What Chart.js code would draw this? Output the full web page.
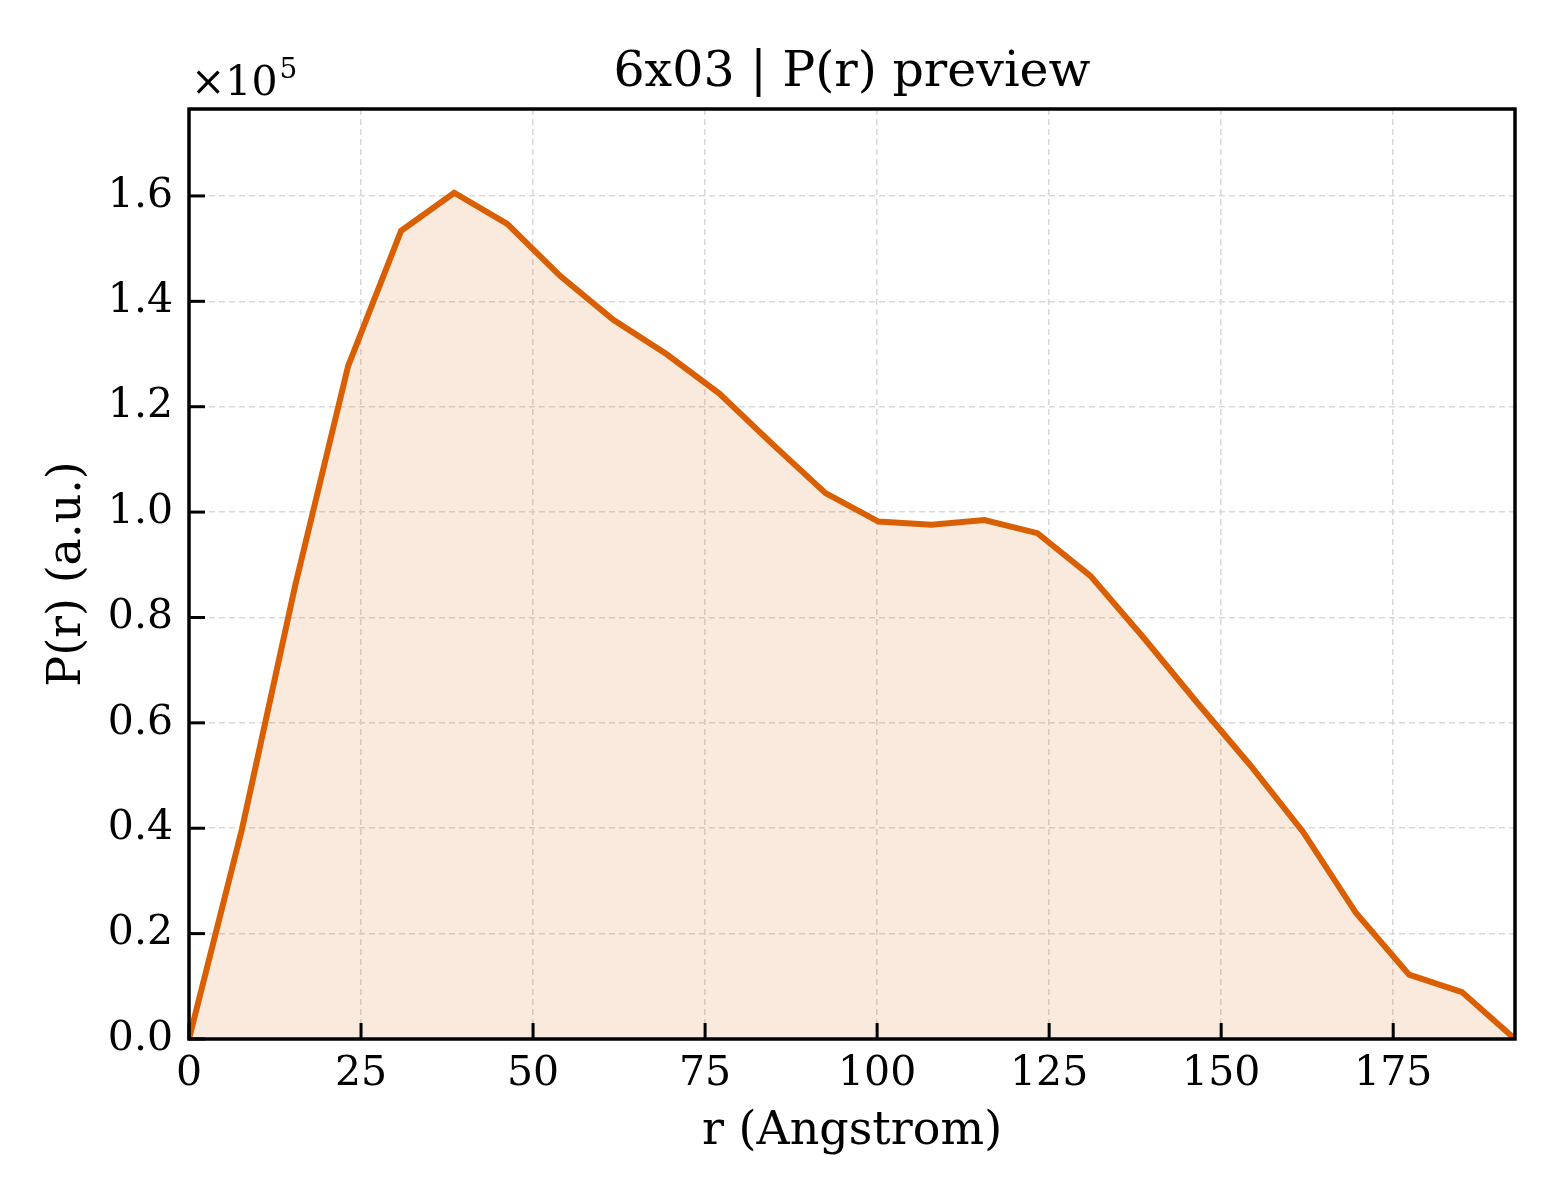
<!DOCTYPE html>
<html>
<head>
<meta charset="utf-8">
<script src="https://cdn.jsdelivr.net/npm/chart.js@4.4.1/dist/chart.umd.min.js"></script>
<style>
html,body{margin:0;padding:0;background:#fff;}
#wrap{width:1560px;height:1200px;position:relative;}
</style>
</head>
<body>
<div id="wrap"><canvas id="c" width="1560" height="1200"></canvas></div>
<script>
const titleText = "6x03 | P(r) preview";
const xLabel = "r (Angstrom)";
const yLabel = "P(r) (a.u.)";
const rValues = [0, 7.71, 15.42, 23.12, 30.83, 38.54, 46.25, 53.96, 61.66, 69.37, 77.08, 84.79, 92.5, 100.2, 107.9, 115.6, 123.3, 131.0, 138.7, 146.4, 154.2, 161.9, 169.6, 177.3, 185.0, 192.7];
const prValues = [0, 39900, 86000, 127700, 153400, 160600, 154700, 144800, 136500, 130000, 122500, 112900, 103600, 98200, 97600, 98500, 96000, 87900, 76200, 64000, 52000, 39300, 23900, 12200, 8900, 0];
const xTicks = [0, 25, 50, 75, 100, 125, 150, 175];
const yTicks = [0, 20000, 40000, 60000, 80000, 100000, 120000, 140000, 160000];
const xMax = 192.7;
const yMax = 176500;

const FONT = "'DejaVu Serif', serif";
const points = rValues.map((r, i) => ({x: r, y: prValues[i]}));

const decor = {
  id: 'decor',
  afterDraw(chart) {
    const ctx = chart.ctx;
    const a = chart.chartArea;
    const xs = chart.scales.x, ys = chart.scales.y;
    ctx.save();
    ctx.strokeStyle = '#000';
    ctx.lineWidth = 3;
    // inward ticks
    xs.ticks.forEach(t => {
      const px = xs.getPixelForValue(t.value);
      ctx.beginPath(); ctx.moveTo(px, a.bottom); ctx.lineTo(px, a.bottom - 16); ctx.stroke();
    });
    ys.ticks.forEach(t => {
      const py = ys.getPixelForValue(t.value);
      ctx.beginPath(); ctx.moveTo(a.left, py); ctx.lineTo(a.left + 16, py); ctx.stroke();
    });
    // spines
    ctx.lineWidth = 3.5;
    ctx.strokeRect(a.left, a.top, a.right - a.left, a.bottom - a.top);
    // title
    ctx.fillStyle = '#000';
    ctx.textAlign = 'center';
    ctx.textBaseline = 'alphabetic';
    ctx.font = "49px " + FONT;
    ctx.fillText(titleText, (a.left + a.right) / 2, 86);
    // offset text
    ctx.textAlign = 'left';
    ctx.font = "41px " + FONT;
    ctx.fillText("\u00d710", 191, 95);
    const w = ctx.measureText("\u00d710").width;
    ctx.font = "28px " + FONT;
    ctx.fillText("5", 191 + w + 2, 78);
    ctx.restore();
  }
};

function keepTicks(list) {
  return s => { s.ticks = list.map(v => ({value: v})); };
}

new Chart(document.getElementById('c'), {
  type: 'line',
  data: {
    datasets: [{
      data: points,
      borderColor: '#d95f02',
      backgroundColor: 'rgba(217,95,2,0.13)',
      borderWidth: 6,
      pointRadius: 0,
      fill: 'origin',
      tension: 0
    }]
  },
  options: {
    responsive: false,
    animation: false,
    devicePixelRatio: 1,
    layout: {padding: {left: 0, top: 109, right: 45, bottom: 0}},
    plugins: {legend: {display: false}, tooltip: {enabled: false}, title: {display: false}},
    scales: {
      x: {
        type: 'linear',
        bounds: 'data',
        min: 0, max: xMax,
        afterBuildTicks: keepTicks(xTicks),
        afterFit(s) { s.height = 161; },
        grid: {color: '#d9d9d9', lineWidth: 1.6, drawTicks: false},
        border: {display: false, dash: [6, 4]},
        ticks: {padding: 11, color: '#000', font: {family: FONT, size: 41}, maxRotation: 0, autoSkip: false},
        title: {display: true, text: xLabel, color: '#000', font: {family: FONT, size: 46, lineHeight: 1.2}, padding: {top: 0, bottom: 40}}
      },
      y: {
        type: 'linear',
        bounds: 'data',
        min: 0, max: yMax,
        afterBuildTicks: keepTicks(yTicks),
        afterFit(s) { s.width = 189; },
        grid: {color: '#d9d9d9', lineWidth: 1.6, drawTicks: false},
        border: {display: false, dash: [6, 4]},
        ticks: {padding: 16, color: '#000', font: {family: FONT, size: 41}, autoSkip: false,
          callback: v => (v / 100000).toFixed(1)},
        title: {display: true, text: yLabel, color: '#000', font: {family: FONT, size: 46, lineHeight: 1.2}, padding: {top: 40, bottom: 0}}
      }
    }
  },
  plugins: [decor]
});
</script>
</body>
</html>
